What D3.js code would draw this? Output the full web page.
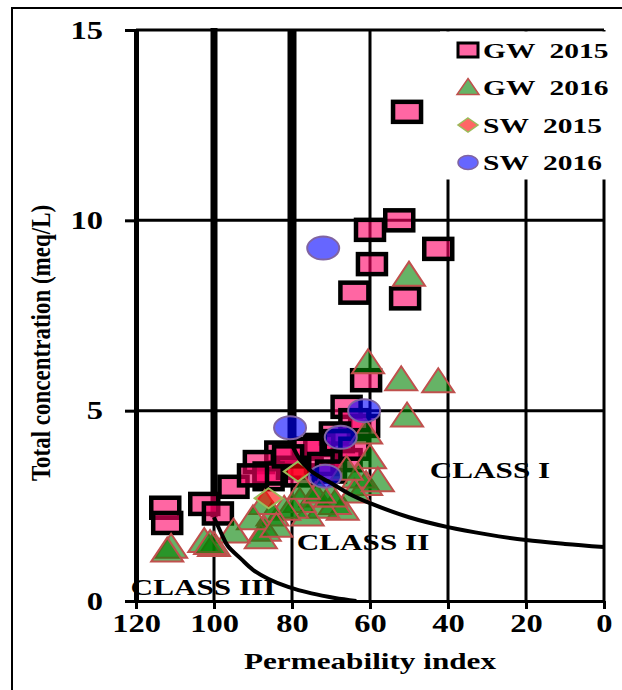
<!DOCTYPE html>
<html>
<head>
<meta charset="utf-8">
<script src="https://cdn.jsdelivr.net/npm/d3@7"></script>
<style>
  body { margin: 0; background: #fff; }
  text { font-family: "Liberation Serif", "Times New Roman", serif; font-weight: bold; fill: #000; }
</style>
</head>
<body>
<script>
// permeability index (x) vs total concentration meq/L (y)
var xTicks = [120, 100, 80, 60, 40, 20, 0];
var yTicks = [0, 5, 10, 15];

var gw2015 = [[50.5,12.85],[52.5,10.0],[60,9.75],[59.5,8.85],[42.5,9.25],[64,8.1],[51,7.95],
  [61,5.8],[66,5.1],[61.5,4.6],[64,4.75],[69,4.4],[73,4.1],[76,4.0],[83,3.9],[88.5,3.65],
  [86,3.2],[80,3.5],[78,3.3],[72,3.6],[66,3.7],[95,3.0],[102.5,2.55],[99,2.3],[112.5,2.45],
  [112,2.05],[86,3.35],[68,4.2],[64,4.0],[70,3.4],[81,3.8],[90,3.3]];
var gw2016 = [[50,8.6],[60.5,6.3],[52,5.85],[42.5,5.8],[50.5,4.9],[61,4.45],[60,3.8],[61,3.1],
  [63,3.3],[67,2.45],[64,2.9],[69,2.6],[72,2.5],[74,2.8],[76,2.3],[78,2.65],[80,2.5],[82,2.45],
  [85,2.3],[87,1.9],[88,1.7],[87,2.6],[90,2.2],[95,1.85],[100,1.5],[102.5,1.6],[101,1.55],
  [111,1.45],[112,1.35],[66,3.5],[70,2.8],[73,2.9],[77,3.0],[58,3.2],[84,2.0]];
var sw2015 = [[78.5,3.4],[86,2.7]];
var sw2016 = [[72,9.27],[80.5,4.55],[67.5,4.3],[61.5,5.0],[71.5,3.28]];

// Doneen class boundaries
var boundary1 = [[80,4.1],[78,3.72],[75.5,3.45],[73,3.27],[70,3.1],[65,2.8],[60,2.57],[50,2.2],
  [40,1.94],[30,1.75],[20,1.6],[10,1.5],[0,1.42]];
var boundary2 = [[100,2.2],[98,1.75],[96.5,1.45],[93,1.1],[90,0.82],[86,0.58],[81,0.37],
  [75,0.2],[69,0.08],[63.5,0]];

var legendItems = ["GW  2015", "GW  2016", "SW  2015", "SW  2016"];
var classLabels = [["CLASS I", 490, 478], ["CLASS II", 363, 550], ["CLASS III", 203, 595]];

var W = 622, H = 690, sx = 1.3;

var svg = d3.select("body").append("svg")
  .attr("width", W)
  .attr("height", H);

// outer frame
svg.append("rect")
  .attr("x", 12).attr("y", 8)
  .attr("width", 700).attr("height", 700)
  .style("fill", "none")
  .style("stroke", "#000")
  .style("stroke-width", 2);

var x = d3.scaleLinear().domain([120, 0]).range([136, 604]);
var y = d3.scaleLinear().domain([0, 15]).range([601, 30]);

// grid
svg.append("g").selectAll("line")
  .data(yTicks.slice(1)).enter().append("line")
  .attr("x1", x(120)).attr("x2", x(0))
  .attr("y1", function(d) { return y(d); })
  .attr("y2", function(d) { return y(d); })
  .style("stroke", "#000").style("stroke-width", 3);

svg.append("g").selectAll("line")
  .data(xTicks.slice(1)).enter().append("line")
  .attr("x1", function(d) { return x(d); })
  .attr("x2", function(d) { return x(d); })
  .attr("y1", y(15)).attr("y2", y(0))
  .style("stroke", "#000").style("stroke-width", 3);

// legend box covers the grid
svg.append("rect")
  .attr("x", 440).attr("y", 31.5)
  .attr("width", 180).attr("height", 148)
  .style("fill", "#fff");

// axes
var xAxis = svg.append("g")
  .attr("transform", "translate(0," + y(0) + ")")
  .call(d3.axisBottom(x).tickValues(xTicks).tickSize(8).tickSizeOuter(0).tickPadding(12));
xAxis.select(".domain").style("stroke-width", 3);
xAxis.selectAll(".tick line").style("stroke-width", 3);
xAxis.selectAll("text")
  .attr("y", 31).attr("dy", 0)
  .attr("transform", "scale(" + sx + ",1)")
  .style("font-size", "25px")
  .style("font-family", "Liberation Serif");

var yAxis = svg.append("g")
  .attr("transform", "translate(" + x(120) + ",0)")
  .call(d3.axisLeft(y).tickValues(yTicks).tickSize(11).tickSizeOuter(0));
yAxis.select(".domain").style("stroke-width", 5);
yAxis.selectAll(".tick line").style("stroke-width", 3);
yAxis.selectAll("text")
  .attr("x", -33 / sx).attr("dy", "0.33em")
  .attr("transform", "scale(" + sx + ",1)")
  .style("font-size", "25px")
  .style("font-family", "Liberation Serif");

// thick vertical parts of class boundaries
svg.append("line")
  .attr("x1", x(100)).attr("x2", x(100))
  .attr("y1", y(15) - 2).attr("y2", y(boundary2[0][1]))
  .style("stroke", "#000").style("stroke-width", 7);
svg.append("line")
  .attr("x1", x(80)).attr("x2", x(80))
  .attr("y1", y(15)).attr("y2", y(boundary1[0][1]))
  .style("stroke", "#000").style("stroke-width", 9);

// markers
var sq = svg.append("g");
sq.selectAll("rect").data(gw2015).enter().append("rect")
  .attr("x", function(d) { return x(d[0]) - 14; })
  .attr("y", function(d) { return y(d[1]) - 10; })
  .attr("width", 28).attr("height", 20)
  .style("fill", "#ff0066").style("fill-opacity", 0.6)
  .style("stroke", "#000").style("stroke-width", 4.5);

var tri = svg.append("g");
tri.selectAll("path").data(gw2016).enter().append("path")
  .attr("d", function(d) {
    var cx = x(d[0]), cy = y(d[1]);
    return "M" + cx + "," + (cy - 12) + "L" + (cx + 16) + "," + (cy + 12) + "L" + (cx - 16) + "," + (cy + 12) + "Z";
  })
  .style("fill", "#008000").style("fill-opacity", 0.6)
  .style("stroke", "#c0504d").style("stroke-width", 2);

var dia = svg.append("g");
dia.selectAll("path").data(sw2015).enter().append("path")
  .attr("d", function(d) {
    var cx = x(d[0]), cy = y(d[1]);
    return "M" + cx + "," + (cy - 10) + "L" + (cx + 14) + "," + cy + "L" + cx + "," + (cy + 10) + "L" + (cx - 14) + "," + cy + "Z";
  })
  .style("fill", "#ff0000").style("fill-opacity", 0.6)
  .style("stroke", "#9bbb59").style("stroke-width", 2);

var circ = svg.append("g");
circ.selectAll("ellipse").data(sw2016).enter().append("ellipse")
  .attr("cx", function(d) { return x(d[0]); })
  .attr("cy", function(d) { return y(d[1]); })
  .attr("rx", 16).attr("ry", 11.5)
  .style("fill", "#0000ff").style("fill-opacity", 0.6)
  .style("stroke", "#8064a2").style("stroke-width", 2);

// boundary curves
var line = d3.line()
  .x(function(d) { return x(d[0]); })
  .y(function(d) { return y(d[1]); })
  .curve(d3.curveCatmullRom);
[boundary1, boundary2].forEach(function(b) {
  svg.append("path").datum(b)
    .attr("d", line)
    .style("fill", "none")
    .style("stroke", "#000")
    .style("stroke-width", 4);
});

// class labels
svg.append("g").selectAll("text")
  .data(classLabels).enter().append("text")
  .attr("transform", function(d) { return "translate(" + d[1] + "," + d[2] + ") scale(" + sx + ",1)"; })
  .attr("text-anchor", "middle")
  .style("font-size", "24px")
  .text(function(d) { return d[0]; });

// legend
var lg = svg.append("g");
var rowY = function(i) { return 50 + i * 37.5; };
lg.append("rect")
  .attr("x", 458).attr("y", rowY(0) - 7)
  .attr("width", 20).attr("height", 14)
  .style("fill", "#ff0066").style("fill-opacity", 0.6)
  .style("stroke", "#000").style("stroke-width", 3);
lg.append("path")
  .attr("d", "M468," + (rowY(1) - 9) + "L479," + (rowY(1) + 7) + "L457," + (rowY(1) + 7) + "Z")
  .style("fill", "#008000").style("fill-opacity", 0.6)
  .style("stroke", "#c0504d").style("stroke-width", 1.5);
lg.append("path")
  .attr("d", "M468," + (rowY(2) - 7) + "L478," + rowY(2) + "L468," + (rowY(2) + 7) + "L458," + rowY(2) + "Z")
  .style("fill", "#ff0000").style("fill-opacity", 0.6)
  .style("stroke", "#9bbb59").style("stroke-width", 1.5);
lg.append("ellipse")
  .attr("cx", 468).attr("cy", rowY(3))
  .attr("rx", 10).attr("ry", 7)
  .style("fill", "#0000ff").style("fill-opacity", 0.6)
  .style("stroke", "#8064a2").style("stroke-width", 1.5);
lg.selectAll("text").data(legendItems).enter().append("text")
  .attr("transform", function(d, i) { return "translate(483," + (rowY(i) + 7.5) + ") scale(1.34,1)"; })
  .attr("xml:space", "preserve")
  .style("white-space", "pre")
  .style("font-size", "22px")
  .text(function(d) { return d; });

// axis titles
svg.append("text")
  .attr("transform", "translate(370,669) scale(" + sx + ",1)")
  .attr("text-anchor", "middle")
  .style("font-size", "24px")
  .text("Permeability index");

svg.append("text")
  .attr("transform", "translate(50,343) rotate(-90) scale(1,1.2)")
  .attr("text-anchor", "middle")
  .style("font-size", "23px")
  .text("Total concentration (meq/L)");
</script>
</body>
</html>
